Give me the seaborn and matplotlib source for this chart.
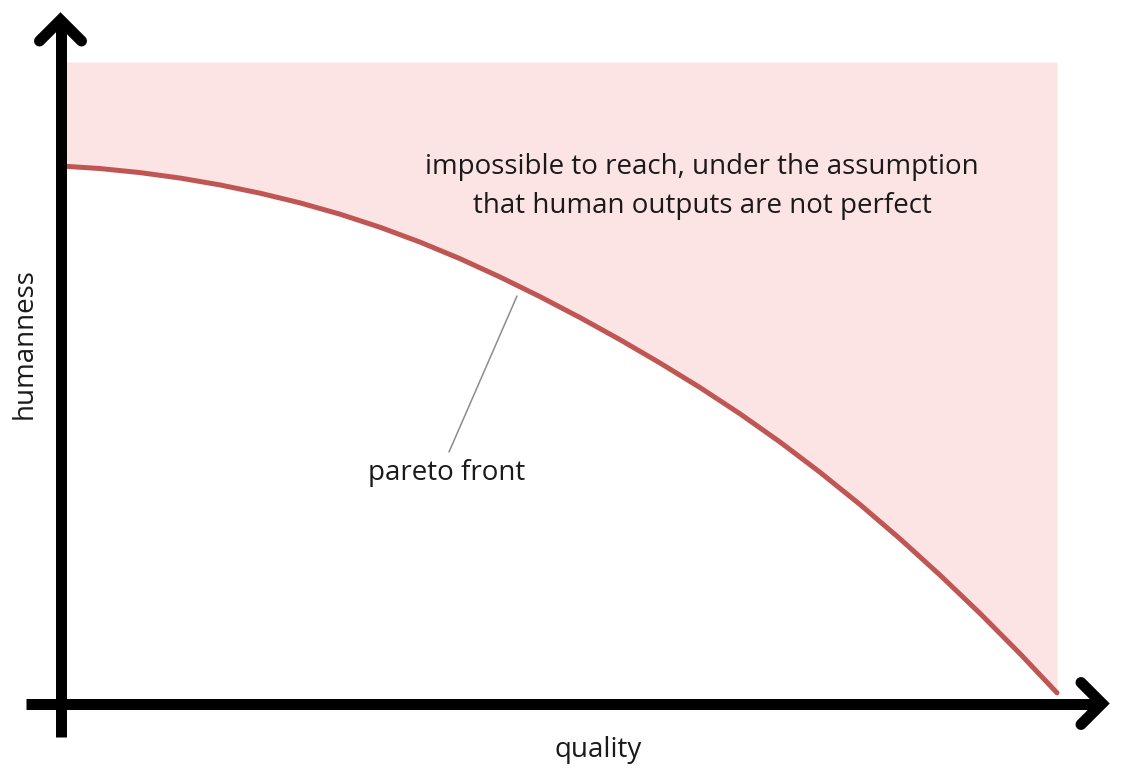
import matplotlib
matplotlib.use("Agg")
import matplotlib.pyplot as plt
import numpy as np
import pandas as pd
import seaborn as sns

# ---- data ----
quality = [0.0, 3.92, 7.93, 11.95, 15.96, 19.98, 24.0, 28.01, 32.03, 36.04,
           40.06, 44.08, 48.09, 52.11, 56.12, 60.14, 64.16, 68.17, 72.19,
           76.2, 80.22, 84.24, 88.25, 92.27, 96.29, 100.0]
humanness = [83.79, 83.39, 82.76, 81.91, 80.84, 79.55, 78.04, 76.28, 74.24,
             71.93, 69.34, 66.48, 63.42, 60.16, 56.72, 53.08, 49.25, 45.16,
             40.76, 36.05, 31.02, 25.67, 20.02, 14.05, 7.76, 1.66]
region_top = 100
x_label = "quality"
y_label = "humanness"
region_lines = ["impossible to reach, under the assumption",
                "that human outputs are not perfect"]
curve_label = "pareto front"

# ---- layout helpers: reference pixel position -> data units ----
def PX(px):
    return (px - 61.0) / 9.96

def PY(py):
    return (703.5 - py) / 6.415

sns.set_theme(style="white")
plt.rcParams["font.family"] = ["Open Sans", "DejaVu Sans"]

fig = plt.figure(figsize=(11.27, 7.7), dpi=100)
ax = fig.add_axes([0, 0, 1, 1])
ax.set_xlim(PX(0), PX(1127))
ax.set_ylim(PY(770), PY(0))
ax.axis("off")

df = pd.DataFrame({"quality": quality, "humanness": humanness})

# impossible region
ax.fill_between(df["quality"], df["humanness"], region_top,
                color="#fce4e4", linewidth=0, zorder=1)

# pareto front
sns.lineplot(data=df, x="quality", y="humanness", ax=ax, color="#bf5654",
             linewidth=3.6, zorder=3)
for ln in ax.lines:
    ln.set_solid_joinstyle("round")

# axes with arrow heads
lw_axis = 7.9
ax.plot([PX(60.5), PX(60.5)], [PY(737), PY(20)], color="black", lw=lw_axis,
        solid_capstyle="butt", zorder=5)
ax.plot([PX(39.5), PX(60.5), PX(81.5)], [PY(41), PY(20), PY(41)], color="black",
        lw=lw_axis, solid_joinstyle="miter", solid_capstyle="round", zorder=5)
ax.plot([PX(26), PX(1102)], [PY(703.5), PY(703.5)], color="black", lw=lw_axis,
        solid_capstyle="butt", zorder=5)
ax.plot([PX(1081), PX(1102), PX(1081)], [PY(682.5), PY(703.5), PY(724.5)],
        color="black", lw=lw_axis, solid_joinstyle="miter",
        solid_capstyle="round", zorder=5)

# leader line for the pareto-front label
ax.plot([PX(449), PX(517)], [PY(452), PY(296)], color="#8c8c8c", lw=1.1, zorder=4)

fs = 20
ax.text(PX(702), PY(174), region_lines[0], ha="center", va="baseline",
        fontsize=fs, color="#1a1a1a", zorder=6)
ax.text(PX(702), PY(213), region_lines[1], ha="center", va="baseline",
        fontsize=fs, color="#1a1a1a", zorder=6)
ax.text(PX(447), PY(480), curve_label, ha="center", va="baseline",
        fontsize=fs, color="#1a1a1a", zorder=6)
ax.text(PX(598), PY(756.5), x_label, ha="center", va="baseline",
        fontsize=fs, color="#1a1a1a", zorder=6)
ax.text(PX(32), PY(344), y_label, ha="center", va="baseline", rotation=90,
        rotation_mode="anchor", fontsize=fs, color="#1a1a1a", zorder=6)

fig.savefig("out.png", dpi=100)
